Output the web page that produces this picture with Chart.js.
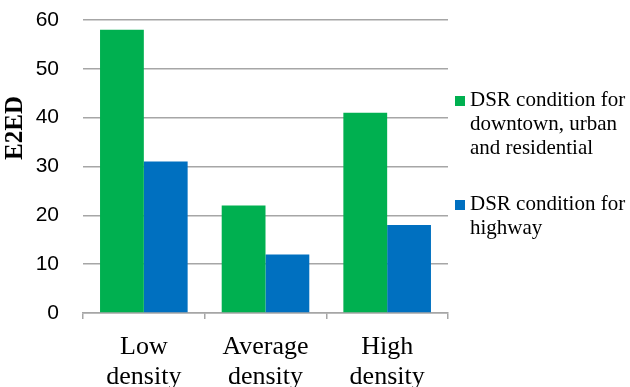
<!DOCTYPE html>
<html>
<head>
<meta charset="utf-8">
<script src="https://cdn.jsdelivr.net/npm/chart.js@4.4.0/dist/chart.umd.min.js"></script>
<style>
  html, body { margin: 0; padding: 0; background: #fff; }
  #wrap { width: 630px; height: 387px; position: relative; }
</style>
</head>
<body>
<div id="wrap"><canvas id="chartCanvas" width="630" height="387"></canvas></div>
<script>
const categorias = [['Low', 'density'], ['Average', 'density'], ['High', 'density']];
const serieUrbana = [58, 22, 41];
const serieAutopista = [31, 12, 18];
const etiquetaUrbana = ['DSR condition for', 'downtown, urban', 'and residential'];
const etiquetaAutopista = ['DSR condition for', 'highway'];
const tituloEje = 'E2ED';

const verde = '#00B050';
const azul = '#0070C0';
const gris = '#a6a6a6';

// leyenda a la derecha y titulo del eje Y dibujados a mano
const extras = {
    id: 'extras',
    afterDraw(chart) {
        const ctx = chart.ctx;
        ctx.save();
        ctx.fillStyle = '#000';
        ctx.font = '21px "Liberation Serif"';
        ctx.textBaseline = 'alphabetic';
        const items = [
            { color: verde, lineas: etiquetaUrbana, y: 106 },
            { color: azul, lineas: etiquetaAutopista, y: 210 }
        ];
        items.forEach(it => {
            ctx.fillStyle = it.color;
            ctx.fillRect(455, it.y - 10, 10, 10);
            ctx.fillStyle = '#000';
            it.lineas.forEach((l, i) => ctx.fillText(l, 470, it.y + i * 24));
        });

        ctx.translate(16, 128);
        ctx.rotate(-Math.PI / 2);
        ctx.font = 'bold 25px "Liberation Serif"';
        ctx.textAlign = 'center';
        ctx.textBaseline = 'middle';
        ctx.fillText(tituloEje, 0, 0);
        ctx.restore();
    }
};

const ctx = document.getElementById('chartCanvas').getContext('2d');
new Chart(ctx, {
    type: 'bar',
    data: {
        labels: categorias,
        datasets: [
            { label: etiquetaUrbana.join(' '), data: serieUrbana, backgroundColor: verde },
            { label: etiquetaAutopista.join(' '), data: serieAutopista, backgroundColor: azul }
        ]
    },
    options: {
        responsive: false, animation: false,
        layout: { padding: { left: 30, right: 182, top: 20, bottom: 0 } },
        datasets: { bar: { categoryPercentage: 0.72, barPercentage: 1 } },
        scales: {
            x: {
                grid: { display: true, drawOnChartArea: false, drawTicks: true, tickLength: 6, offset: true, color: gris, lineWidth: 1.5 },
                border: { display: true, color: gris, width: 1.5 },
                ticks: { color: '#000', font: { family: 'Liberation Serif', size: 26, lineHeight: 1.15 }, padding: 13, maxRotation: 0 },
                afterFit(scale) { scale.height = 74; }
            },
            y: {
                min: 0, max: 60,
                ticks: { stepSize: 10, color: '#000', font: { family: 'Liberation Sans', size: 21 }, padding: 24 },
                grid: { color: gris, lineWidth: 1.5, drawTicks: false },
                border: { display: false },
                afterFit(scale) { scale.width = 53; scale.paddingTop = 0; scale.paddingBottom = 0; }
            }
        },
        plugins: { legend: { display: false }, tooltip: { enabled: false } }
    },
    plugins: [extras]
});
</script>
</body>
</html>
